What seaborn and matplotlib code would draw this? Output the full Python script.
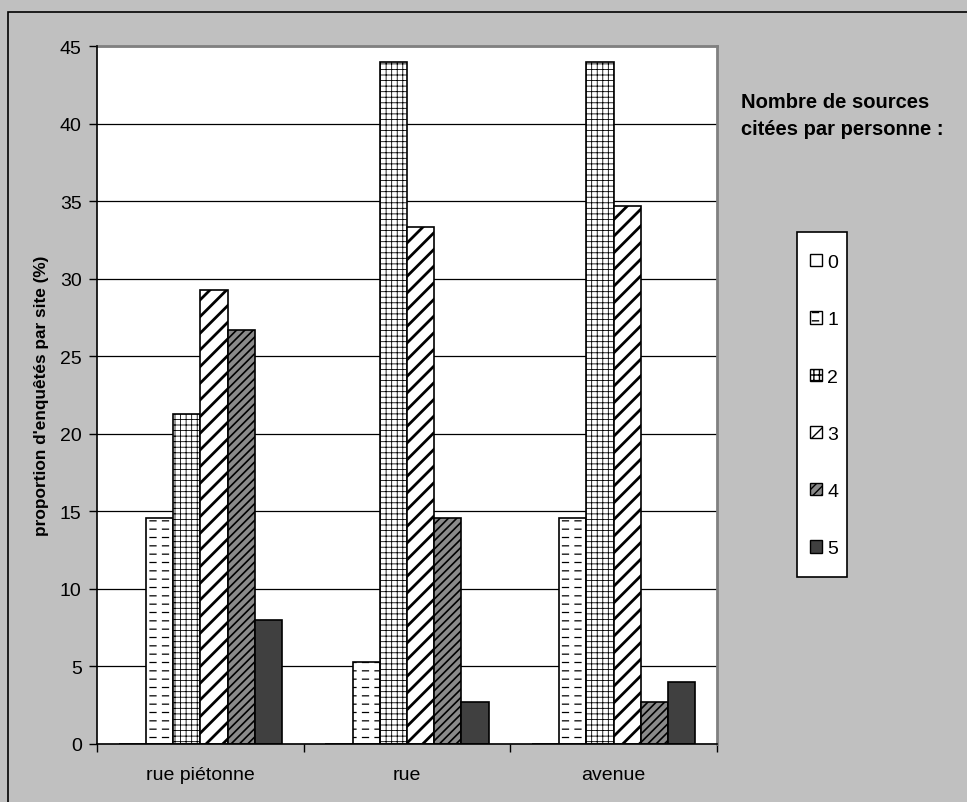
import warnings
import matplotlib
matplotlib.use("Agg")
import matplotlib.pyplot as plt
import matplotlib.patches as mpatches
from matplotlib import hatch as mhatch
from matplotlib.path import Path
import numpy as np
import seaborn as sns
import pandas as pd

warnings.filterwarnings("ignore")

# Survey results: share of respondents (%) by number of sources cited, per site
sites = ["rue piétonne", "rue", "avenue"]
source_counts = ["0", "1", "2", "3", "4", "5"]
pct_rue_pietonne = [0.0, 14.6, 21.3, 29.3, 26.7, 8.0]
pct_rue = [0.0, 5.3, 44.0, 33.3, 14.6, 2.7]
pct_avenue = [0.0, 14.6, 44.0, 34.7, 2.7, 4.0]
y_ticks = [0, 5, 10, 15, 20, 25, 30, 35, 40, 45]


class DashedRows(mhatch.HatchPatternBase):
    """Rows of short horizontal dashes, selected with '_'."""

    def __init__(self, hatch, density):
        self.num_rows = hatch.count("_") * density
        self.per_row = 8
        self.num_vertices = self.num_rows * self.per_row * 2

    def set_vertices_and_codes(self, vertices, codes):
        ys = np.linspace(0, 1, self.num_rows, endpoint=False) + 0.5 / max(self.num_rows, 1)
        xs = np.linspace(0, 1, self.per_row, endpoint=False)
        dash = 0.06
        i = 0
        for y in ys:
            for x in xs:
                vertices[i] = (x, y)
                vertices[i + 1] = (x + dash, y)
                codes[i] = Path.MOVETO
                codes[i + 1] = Path.LINETO
                i += 2


mhatch._hatch_types.append(DashedRows)

rows = []
for site, vals in zip(sites, [pct_rue_pietonne, pct_rue, pct_avenue]):
    for n, v in zip(source_counts, vals):
        rows.append({"site": site, "n": n, "pct": v})
df = pd.DataFrame(rows)

# fill / hatch style for each series
faces = ["#ffffff", "#ffffff", "#ffffff", "#ffffff", "#8a8a8a", "#404040"]
hatches = ["", "__", "+++", "//", "////", ""]
hatch_lw = [1.0, 0.9, 0.6, 2.0, 1.2, 1.0]

sns.set_theme(style="white")
plt.rcParams["font.family"] = ["Liberation Sans", "DejaVu Sans"]
plt.rcParams["text.color"] = "black"
plt.rcParams["axes.labelcolor"] = "black"
plt.rcParams["xtick.color"] = "black"
plt.rcParams["ytick.color"] = "black"

fig = plt.figure(figsize=(9.67, 8.03), dpi=100, facecolor="#c0c0c0")
ax = fig.add_axes([97 / 967, 1 - 745 / 803, (717 - 97) / 967, (745 - 47) / 803])
ax.set_facecolor("white")

sns.barplot(data=df, x="site", y="pct", hue="n", hue_order=source_counts,
            palette=faces, edgecolor="black", linewidth=1.2, width=0.79,
            saturation=1, ax=ax, legend=False, zorder=3)

for cont, h, lw in zip(ax.containers, hatches, hatch_lw):
    for p in cont:
        p.set_hatch(h)
        if hasattr(p, "set_hatch_linewidth"):
            p.set_hatch_linewidth(lw)

ax.set_ylim(0, 45)
ax.set_xlim(-0.5, 2.5)
ax.set_yticks(y_ticks)
ax.set_yticklabels([str(t) for t in y_ticks], fontsize=14)
ax.set_xticks(range(len(sites)))
ax.set_xticklabels(sites, fontsize=14)
ax.set_xticks([-0.5, 0.5, 1.5, 2.5], minor=True)
ax.tick_params(axis="x", which="major", length=0, pad=16, labelcolor="black")
ax.tick_params(axis="x", which="minor", length=6, width=1, color="black", direction="out", bottom=True)
ax.tick_params(axis="y", which="major", length=6, width=1, color="black", direction="out",
               left=True, pad=5, labelcolor="black")
ax.set_xlabel("")
ax.set_ylabel("proportion d'enquêtés par site (%)", fontsize=12.4, fontweight="bold",
              labelpad=8, color="black")

ax.yaxis.grid(True, color="black", linewidth=0.9)
ax.set_axisbelow(True)
for s in ["left", "bottom"]:
    ax.spines[s].set_color("black")
    ax.spines[s].set_linewidth(1.2)
    ax.spines[s].set_zorder(5)
for s in ["top", "right"]:
    ax.spines[s].set_color("#808080")
    ax.spines[s].set_linewidth(2)

# legend box and entries
legend_box = mpatches.Rectangle((797 / 967, 1 - 578 / 803), 50 / 967, 345 / 803,
                                transform=fig.transFigure, facecolor="white",
                                edgecolor="black", linewidth=1.2)
fig.add_artist(legend_box)

handles = [mpatches.Patch(facecolor=f, edgecolor="black", hatch=h, linewidth=1)
           for f, h in zip(faces, hatches)]
leg = fig.legend(handles, source_counts, loc="upper left",
                 bbox_to_anchor=(810 / 967, 1 - 255 / 803), fontsize=14,
                 frameon=False, handlelength=0.6, handleheight=0.6,
                 handletextpad=0.3, labelspacing=2.07, borderpad=0,
                 borderaxespad=0)
for t in leg.get_texts():
    t.set_color("black")

fig.text(741 / 967, 1 - 116 / 803, "Nombre de sources\ncitées par personne :",
         fontsize=14.5, fontweight="bold", ha="left", va="center", linespacing=1.55,
         color="black")

# outer chart frame
frame = mpatches.Rectangle((8 / 967, -0.2), 1.2, 1 - 13 / 803 + 0.2,
                           transform=fig.transFigure, fill=False,
                           edgecolor="black", linewidth=1.2, clip_on=False)
fig.add_artist(frame)

fig.savefig("out.png", dpi=100, facecolor=fig.get_facecolor())
